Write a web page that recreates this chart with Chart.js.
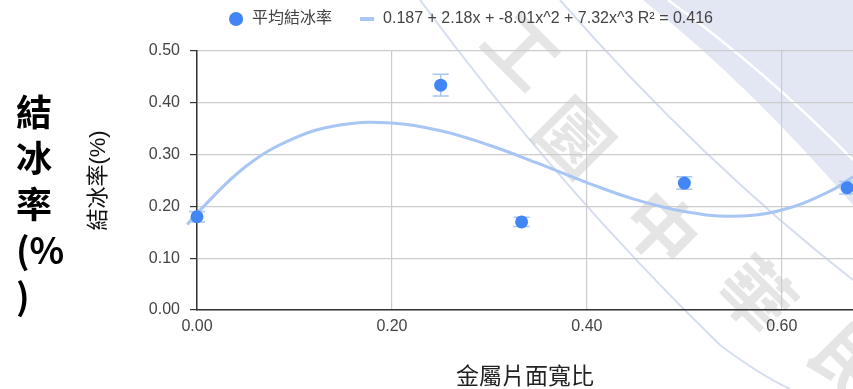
<!DOCTYPE html>
<html>
<head>
<meta charset="utf-8">
<script src="https://cdn.jsdelivr.net/npm/chart.js@4.4.1/dist/chart.umd.min.js"></script>
<style>
  html, body { margin: 0; padding: 0; background: #fff; }
  #wrap { position: relative; width: 853px; height: 389px; overflow: hidden; }
  #chart { position: absolute; left: 0; top: 0; }
  #sideLabel {
    position: absolute; left: 16px; top: 87px;
    font: bold 36px "Noto Sans CJK TC", "Liberation Sans", sans-serif;
    line-height: 46px; color: #000;
  }
</style>
</head>
<body>
<div id="wrap">
  <canvas id="chart" width="853" height="389"></canvas>
  <div id="sideLabel">結<br>冰<br>率<br>(%<br>)</div>
</div>
<script>
// measured points
const ratios = [0, 0.25, 0.333, 0.5, 0.667];
const freezeRates = [0.180, 0.434, 0.170, 0.245, 0.236];
const rateErrors = [0.010, 0.021, 0.009, 0.012, 0.012];

// trendline
const trendX = [-0.01, 0, 0.05, 0.1, 0.15, 0.2, 0.25, 0.3, 0.35, 0.4, 0.45, 0.5, 0.55, 0.6, 0.65, 0.673];
const trendY = [0.165, 0.187, 0.277, 0.332, 0.358, 0.361, 0.346, 0.318, 0.283, 0.246, 0.213, 0.190, 0.181, 0.193, 0.230, 0.257];

const xTicks = [0, 0.2, 0.4, 0.6];
const yTicks = [0, 0.1, 0.2, 0.3, 0.4, 0.5];

const seriesName = '平均結冰率';
const trendName = '0.187 + 2.18x + -8.01x^2 + 7.32x^3 R² = 0.416';
const xTitle = '金屬片面寬比';
const yTitle = '結冰率(%)';

const FONT = '"Liberation Sans", "Noto Sans CJK TC", sans-serif';
const BLUE = '#4285f4';
const LIGHT = '#a8c5f4';

// faint school emblem behind the chart
const watermark = {
  id: 'watermark',
  beforeDraw(chart) {
    const ctx = chart.ctx;
    const W = chart.width;
    ctx.save();
    ctx.fillStyle = '#fff';
    ctx.fillRect(0, 0, W, chart.height);

    // pale blue band in the top right corner
    ctx.beginPath();
    ctx.moveTo(643, 0);
    ctx.quadraticCurveTo(750, 85, W, 205);
    ctx.lineTo(W, 0);
    ctx.closePath();
    ctx.fillStyle = '#e2e7f3';
    ctx.fill();

    ctx.strokeStyle = '#ffffff';
    ctx.lineWidth = 2.5;
    ctx.beginPath();
    ctx.moveTo(668, 0);
    ctx.quadraticCurveTo(765, 70, W, 160);
    ctx.stroke();

    // thin rings crossing the plot
    ctx.strokeStyle = 'rgba(185,198,228,0.6)';
    ctx.lineWidth = 2;
    ctx.beginPath();
    ctx.moveTo(420, 0);
    ctx.quadraticCurveTo(560, 190, 720, 345);
    ctx.quadraticCurveTo(760, 375, 790, 389);
    ctx.stroke();
    ctx.beginPath();
    ctx.moveTo(560, 0);
    ctx.quadraticCurveTo(700, 160, W, 280);
    ctx.stroke();

    ctx.fillStyle = 'rgba(0,0,0,0.1)';
    ctx.font = 'bold 72px "Noto Sans CJK TC", sans-serif';
    ctx.textAlign = 'center';
    ctx.textBaseline = 'middle';
    [['工', 522, 50], ['園', 575, 137], ['中', 662, 228], ['華', 757, 295], ['民', 850, 362]].forEach(([ch, x, y]) => {
      ctx.save();
      ctx.translate(x, y);
      ctx.rotate(Math.PI / 4);
      ctx.fillText(ch, 0, 0);
      ctx.restore();
    });
    ctx.restore();
  }
};

// vertical error bars with caps
const errorBars = {
  id: 'errorBars',
  beforeDatasetsDraw(chart) {
    const ctx = chart.ctx;
    const xs = chart.scales.x, ys = chart.scales.y;
    ctx.save();
    ctx.strokeStyle = LIGHT;
    ctx.lineWidth = 1.5;
    ratios.forEach((r, i) => {
      const px = xs.getPixelForValue(r);
      const top = ys.getPixelForValue(freezeRates[i] + rateErrors[i]);
      const bot = ys.getPixelForValue(freezeRates[i] - rateErrors[i]);
      ctx.beginPath();
      ctx.moveTo(px, top); ctx.lineTo(px, bot);
      ctx.moveTo(px - 8, top); ctx.lineTo(px + 8, top);
      ctx.moveTo(px - 8, bot); ctx.lineTo(px + 8, bot);
      ctx.stroke();
    });
    ctx.restore();
  }
};

// keep room between legend and plot
const legendSpace = {
  id: 'legendSpace',
  afterInit(chart) {
    const lg = chart.legend;
    if (!lg) return;
    const fit = lg.fit;
    lg.fit = function () {
      fit.call(this);
      this.height = 67;
    };
  }
};

const ctx = document.getElementById('chart').getContext('2d');

new Chart(ctx, {
  type: 'scatter',
  data: {
    datasets: [{
      label: seriesName,
      data: ratios.map((x, i) => ({ x: x, y: freezeRates[i] })),
      backgroundColor: BLUE,
      borderColor: BLUE,
      pointRadius: 6.5,
      pointBorderWidth: 0,
      pointStyle: 'circle',
      clip: false
    }, {
      type: 'line',
      label: trendName,
      data: trendX.map((x, i) => ({ x: x, y: trendY[i] })),
      borderColor: LIGHT,
      borderWidth: 3,
      pointRadius: 0,
      pointBorderWidth: 4,
      pointBorderColor: LIGHT,
      pointStyle: 'line',
      tension: 0.4,
      fill: false,
      clip: false
    }]
  },
  options: {
    responsive: false,
    animation: false,
    layout: { autoPadding: false, padding: { left: 88, top: -16, right: 0, bottom: 0 } },
    plugins: {
      tooltip: { enabled: false },
      legend: {
        position: 'top',
        labels: {
          usePointStyle: true,
          boxHeight: 10,
          padding: 27,
          color: '#444',
          font: { family: FONT, size: 16 }
        }
      }
    },
    scales: {
      x: {
        type: 'linear',
        min: 0,
        max: 0.673,
        afterFit: s => { s.height = 79; },
        afterBuildTicks: s => { s.ticks = xTicks.map(v => ({ value: v })); },
        grid: { color: '#cccccc', lineWidth: 1.2, drawTicks: false },
        border: { color: '#333', width: 1.5 },
        ticks: {
          padding: 7,
          color: '#444',
          font: { family: FONT, size: 16 },
          callback: v => v.toFixed(2)
        },
        title: {
          display: true,
          text: xTitle,
          color: '#222',
          padding: 0,
          font: { family: FONT, size: 23, lineHeight: 1 }
        }
      },
      y: {
        min: 0,
        max: 0.5,
        afterFit: s => { s.width = 109; },
        afterBuildTicks: s => { s.ticks = yTicks.map(v => ({ value: v })); },
        grid: { color: '#cccccc', lineWidth: 1.2, tickLength: 7, tickColor: '#333' },
        border: { color: '#333', width: 1.5 },
        ticks: {
          padding: 10,
          color: '#444',
          font: { family: FONT, size: 16 },
          callback: v => v.toFixed(2)
        },
        title: {
          display: true,
          text: yTitle,
          color: '#111',
          padding: 0,
          font: { family: FONT, size: 22, weight: 'normal', lineHeight: 1 }
        }
      }
    }
  },
  plugins: [watermark, errorBars, legendSpace]
});
</script>
</body>
</html>
